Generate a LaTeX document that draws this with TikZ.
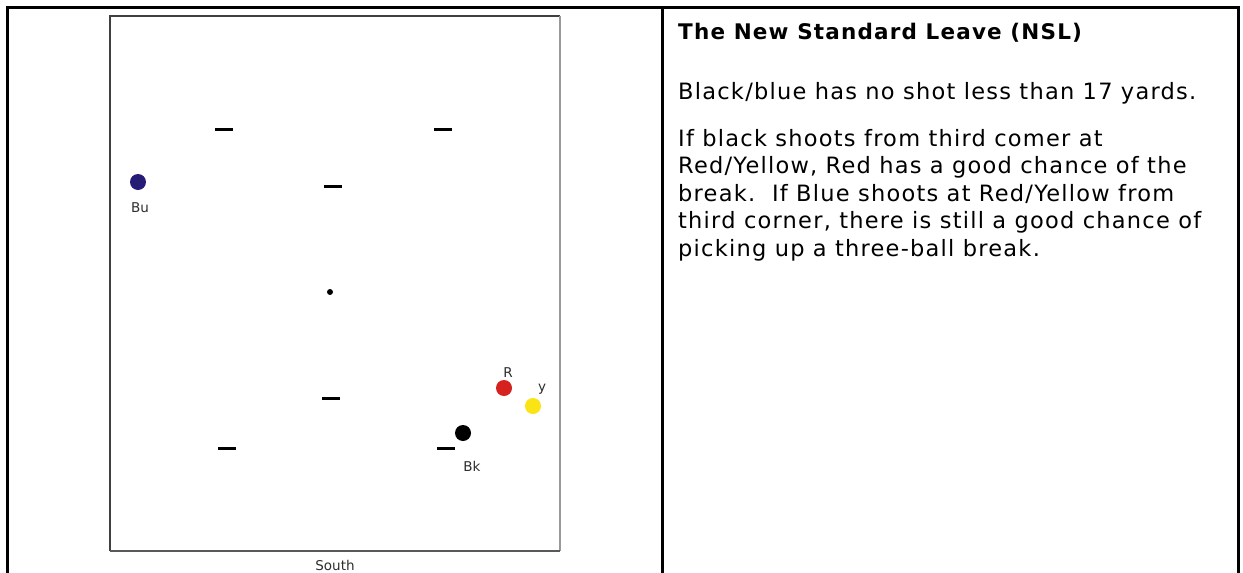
\documentclass[tikz,border=0pt]{standalone}
\usepackage{fontspec}
\setmainfont{DejaVu Sans}
\newfontfamily\notefont[LetterSpace=5.5]{DejaVu Sans}
\definecolor{BlueBallClr}{RGB}{38,28,118}
\definecolor{RedBallClr}{RGB}{214,34,30}
\definecolor{YellowBallClr}{RGB}{250,228,20}
\definecolor{LabelClr}{RGB}{45,45,45}

\begin{document}
\begin{tikzpicture}[x=1pt,y=-1pt,
  ball/.style={circle,inner sep=0pt,minimum size=16pt},
  hoop/.style={line width=3pt},
  lbl/.style={font=\fontsize{13.5}{14}\selectfont,text=LabelClr,inner sep=0pt},
  note/.style={anchor=base west,align=left,inner sep=0pt,
    font=\notefont\fontsize{22.5}{27.5}\selectfont}]
\useasboundingbox (0,0) rectangle (1243,573);

% table frame
\draw[line width=3pt] (7,573) -- (7,7) -- (1238,7) -- (1238,573);
\draw[line width=3pt] (662,7) -- (662,573);

% court
\fill[white] (110,16) rectangle (560,551);
\draw[line width=2.5pt,black!75] (110,551) -- (110,16) -- (560,16);
\draw[line width=2.5pt,black!40] (560,16) -- (560,551);
\draw[line width=2.5pt,black!65] (110,551) -- (560,551);
\node[lbl,anchor=base] (south) at (335,570) {South};

% hoops and peg
\foreach \hx/\hy in {224/129,443/129,333/186,331/398,227/448,446/448}
  \draw[hoop] (\hx-9,\hy) -- (\hx+9,\hy);
\fill (330,292) circle (3);

% balls
\node[ball,fill=BlueBallClr] (bu) at (138,182) {};
\node[ball,fill=RedBallClr] (r) at (504,388) {};
\node[ball,fill=YellowBallClr] (y) at (533,406) {};
\node[ball,fill=black] (bk) at (463,433) {};
\node[lbl,anchor=base] (bulbl) at (140,212) {Bu};
\node[lbl,anchor=base] (rlbl) at (508,377) {R};
\node[lbl,anchor=base] (ylbl) at (542,391) {y};
\node[lbl,anchor=base] (bklbl) at (472,471) {Bk};

% notes (base of a multi-line node = its last line)
\node[note,font=\notefont\bfseries\fontsize{21.5}{27.5}\selectfont] (title) at (678,39)
  {The New Standard Leave (NSL)};
\node[note] (shot) at (678,99) {Black/blue has no shot less than 17 yards.};
\node[note] (break) at (678,256) {If black shoots from third comer at\\
  Red/Yellow, Red has a good chance of the\\
  break.\ \ If Blue shoots at Red/Yellow from\\
  third corner, there is still a good chance of\\
  picking up a three-ball break.};
\end{tikzpicture}
\end{document}
